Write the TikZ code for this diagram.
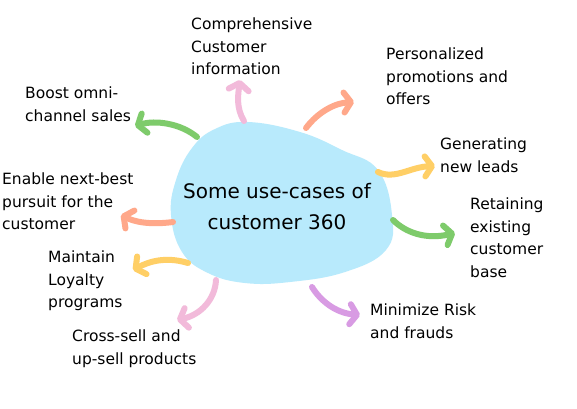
\documentclass[tikz,border=0pt]{standalone}
\usepackage{fontspec}
\setmainfont{DejaVu Sans}
\usetikzlibrary{arrows.meta}
\definecolor{blobc}{HTML}{B8EAFC}
\definecolor{pinkc}{HTML}{F2BADA}
\definecolor{salmonc}{HTML}{FFA88A}
\definecolor{yellowc}{HTML}{FFCF66}
\definecolor{greenc}{HTML}{7ECB6B}
\definecolor{purplec}{HTML}{D89BE3}
\begin{document}
\begin{tikzpicture}[x=1pt,y=-1pt,
  lbl/.style={anchor=north west, inner sep=0pt, align=left, font=\fontsize{15.5}{22.5}\selectfont},
  arr/.style={line width=6pt, line cap=round,
    -{Straight Barb[length=7pt,width=20pt,line cap=round,line join=round]}}]
\useasboundingbox (0,0) rectangle (577,408);
\fill[white] (0,0) rectangle (577,408);
% blob
\fill[blobc] plot[smooth cycle, tension=0.7] coordinates {
  (248,122) (300,132) (342,150) (378,170) (392,215) (386,250) (345,272)
  (290,282) (245,283) (208,273) (182,252) (171,215) (176,180) (192,148) (215,129)};
\node[align=center, inner sep=0pt, font=\fontsize{20}{31}\selectfont] (hub) at (277,207)
  {Some use-cases of\\customer 360};
% labels
\node[lbl] (info) at (191,18) {Comprehensive\\Customer\\information};
\node[lbl] (promo) at (386,48) {Personalized\\promotions and\\offers};
\node[lbl] (leads) at (440,138) {Generating\\new leads};
\node[lbl] (retain) at (470,198) {Retaining\\existing\\customer\\base};
\node[lbl] (risk) at (370,304) {Minimize Risk\\and frauds};
\node[lbl] (cross) at (72,330) {Cross-sell and\\up-sell products};
\node[lbl] (loyal) at (48,251) {Maintain\\Loyalty\\programs};
\node[lbl] (enable) at (2,173) {Enable next-best\\pursuit for the\\customer};
\node[lbl] (boost) at (25,87) {Boost omni-\\channel sales};
% arrow end points
\coordinate (s1) at (244,121); \coordinate (e1) at (240,80);
\coordinate (s2) at (306,128); \coordinate (e2) at (354,102);
\coordinate (s3) at (378,172); \coordinate (e3) at (435,166);
\coordinate (s4) at (393,220); \coordinate (e4) at (455,233);
\coordinate (s5) at (312,287); \coordinate (e5) at (360,315);
\coordinate (s6) at (216,280); \coordinate (e6) at (177,320);
\coordinate (s7) at (188,263); \coordinate (e7) at (133,270);
\coordinate (s8) at (173,222); \coordinate (e8) at (121,215);
\coordinate (s9) at (197,137); \coordinate (e9) at (135,126);
% arrows
\draw[arr, pinkc] (s1) .. controls (236,108) and (238,95) .. (e1);
\draw[arr, salmonc] (s2) .. controls (318,112) and (335,103) .. (e2);
\draw[arr, yellowc] (s3) .. controls (395,180) and (410,167) .. (e3);
\draw[arr, greenc] (s4) .. controls (405,232) and (425,240) .. (e4);
\draw[arr, purplec] (s5) .. controls (320,300) and (335,313) .. (e5);
\draw[arr, pinkc] (s6) .. controls (215,300) and (200,315) .. (e6);
\draw[arr, yellowc] (s7) .. controls (165,256) and (148,262) .. (e7);
\draw[arr, salmonc] (s8) .. controls (150,225) and (135,222) .. (e8);
\draw[arr, greenc] (s9) .. controls (180,123) and (155,120) .. (e9);
\end{tikzpicture}
\end{document}
